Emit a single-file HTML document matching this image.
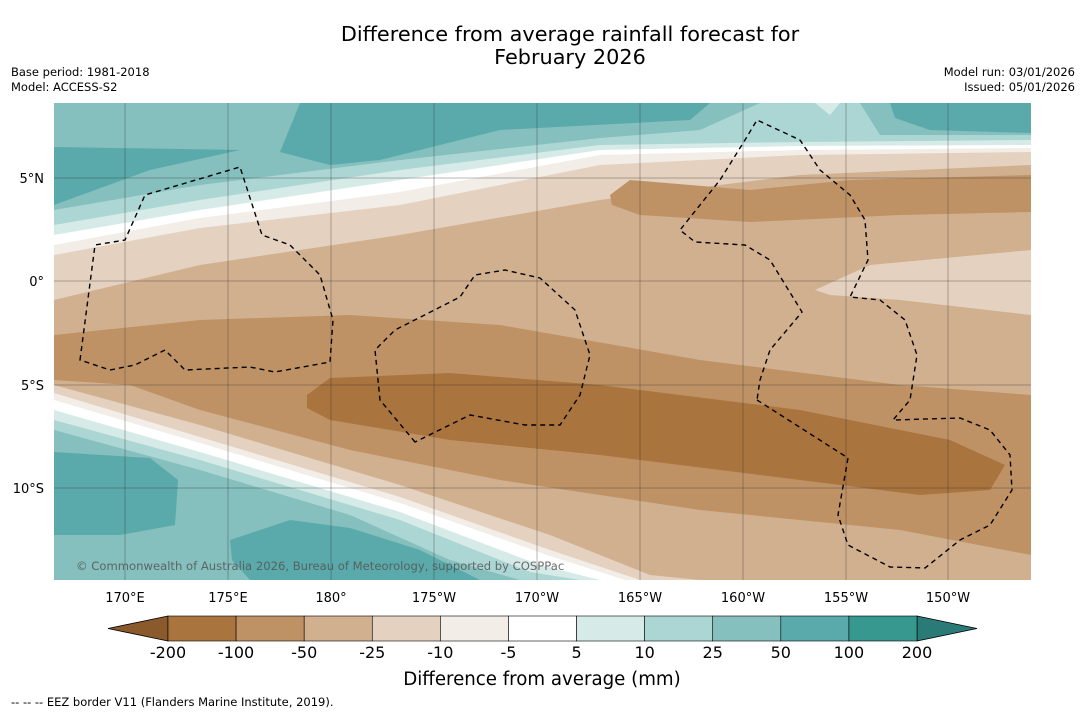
<!DOCTYPE html>
<html><head><meta charset="utf-8"><style>
html,body{margin:0;padding:0;background:#fff;width:1085px;height:713px;overflow:hidden;font-family:"Liberation Sans","DejaVu Sans",sans-serif}
</style></head><body>
<svg width="1085" height="713" xmlns="http://www.w3.org/2000/svg" font-family="'DejaVu Sans','Liberation Sans',sans-serif">
<text x="570" y="41" font-size="20.8" text-anchor="middle">Difference from average rainfall forecast for</text>
<text x="570" y="64" font-size="20.8" text-anchor="middle">February 2026</text>
<text x="11" y="76" font-size="11.5">Base period: 1981-2018</text>
<text x="11" y="91" font-size="11.5">Model: ACCESS-S2</text>
<text x="1075" y="76" font-size="11.5" text-anchor="end">Model run: 03/01/2026</text>
<text x="1075" y="91" font-size="11.5" text-anchor="end">Issued: 05/01/2026</text>
<defs><clipPath id="mc"><rect x="54" y="103" width="977" height="477"/></clipPath></defs>
<g clip-path="url(#mc)">
<rect x="54" y="103" width="977" height="477" fill="#d1b08f"/>
<path d="M54,103 L1031,103 L1031,165 L800,175 L600,200 L400,235 L200,265 L54,300Z" fill="#e4d1bf"/>
<path d="M54,103 L1031,103 L1031,152 L800,155 L600,165 L400,205 L200,228 L54,255Z" fill="#f3ede8"/>
<path d="M54,103 L1031,103 L1031,148 L800,150 L600,155 L400,192 L200,218 L54,245Z" fill="#fff"/>
<path d="M54,103 L1031,103 L1031,145 L800,146 L600,150 L400,180 L200,210 L54,235Z" fill="#d6ebe8"/>
<path d="M54,103 L1031,103 L1031,140 L800,142 L600,145 L400,170 L200,200 L54,225Z" fill="#acd6d4"/>
<path d="M54,103 L760,103 L700,130 L600,138 L400,160 L200,185 L54,210Z" fill="#85bfbe"/>
<path d="M860,103 L1031,103 L1031,135 L880,135Z" fill="#85bfbe"/>
<path d="M54,147 L240,150 L150,170 L54,205Z" fill="#5aaaab"/>
<path d="M54,103 L150,103 L54,120Z" fill="#85bfbe"/>
<path d="M300,103 L710,103 L690,120 L500,130 L380,160 L330,165 L280,152Z" fill="#5aaaab"/>
<path d="M890,103 L1031,103 L1031,133 L930,130 L895,118Z" fill="#5aaaab"/>
<path d="M815,103 L840,103 L830,115Z" fill="#d6ebe8"/>
<path d="M54,335 L200,320 L350,315 L500,325 L700,360 L900,385 L1031,395 L1031,555 L900,530 L700,510 L500,480 L350,450 L200,410 L130,385 L54,380Z" fill="#bf9266"/>
<path d="M610,195 L630,180 L750,190 L850,180 L1031,175 L1031,212 L900,215 L750,222 L640,215 L612,205Z" fill="#bf9266"/>
<path d="M307,395 L330,378 L450,373 L600,385 L800,410 L950,440 L1005,465 L990,490 L920,495 L800,480 L600,455 L450,440 L330,420 L307,408Z" fill="#aa743e"/>
<path d="M815,290 L870,265 L1031,250 L1031,315 L900,300 L830,295Z" fill="#e4d1bf"/>
<path d="M54,385 L200,425 L400,485 L550,535 L650,575 L700,580 L54,580Z" fill="#e4d1bf"/>
<path d="M54,393 L200,437 L400,497 L550,550 L640,580 L54,580Z" fill="#f3ede8"/>
<path d="M54,400 L200,443 L400,503 L550,556 L625,580 L54,580Z" fill="#fff"/>
<path d="M54,410 L200,452 L400,512 L540,565 L600,580 L54,580Z" fill="#d6ebe8"/>
<path d="M54,420 L200,460 L400,520 L530,572 L580,580 L54,580Z" fill="#acd6d4"/>
<path d="M54,430 L200,470 L350,515 L450,560 L520,580 L54,580Z" fill="#85bfbe"/>
<path d="M54,452 L150,458 L178,480 L175,525 L120,535 L54,535Z" fill="#5aaaab"/>
<path d="M230,540 L290,520 L350,528 L420,550 L480,580 L250,580 L232,560Z" fill="#5aaaab"/>
<g stroke="#333" stroke-opacity="0.7" stroke-width="0.5">
<line x1="125" y1="103" x2="125" y2="580"/><line x1="228" y1="103" x2="228" y2="580"/><line x1="331" y1="103" x2="331" y2="580"/><line x1="434" y1="103" x2="434" y2="580"/><line x1="537" y1="103" x2="537" y2="580"/><line x1="640" y1="103" x2="640" y2="580"/><line x1="743" y1="103" x2="743" y2="580"/><line x1="846" y1="103" x2="846" y2="580"/><line x1="948" y1="103" x2="948" y2="580"/>
<line x1="54" y1="178" x2="1031" y2="178"/><line x1="54" y1="281" x2="1031" y2="281"/><line x1="54" y1="385" x2="1031" y2="385"/><line x1="54" y1="488" x2="1031" y2="488"/>
</g>
<g fill="none" stroke="#000" stroke-width="1.4" stroke-dasharray="5,4">
<path d="M80,360 L95,245 L125,240 L145,195 L240,167 L262,235 L290,245 L320,275 L333,320 L330,362 L275,372 L250,367 L185,370 L165,350 L135,365 L110,370 Z"/>
<path d="M415,442 L380,400 L375,350 L395,330 L460,297 L475,275 L505,270 L540,278 L575,310 L590,355 L580,395 L560,425 L525,425 L470,415 Z"/>
<path d="M757,400 L848,458 L838,515 L848,545 L890,567 L925,568 L960,540 L990,525 L1012,490 L1010,455 L990,430 L960,418 L893,420 L910,400 L917,355 L905,320 L880,300 L850,297 L868,260 L865,220 L850,195 L820,170 L800,140 L757,120 L745,140 L720,180 L680,230 L695,242 L745,245 L770,260 L802,312 L770,350 L760,380 Z"/>
</g>
<text x="76" y="570" font-size="11.6" fill="#555" fill-opacity="0.85">© Commonwealth of Australia 2026, Bureau of Meteorology, supported by COSPPac</text>
</g>
<g font-size="13" text-anchor="middle">
<text x="125" y="602">170°E</text><text x="228" y="602">175°E</text><text x="331" y="602">180°</text><text x="434" y="602">175°W</text><text x="537" y="602">170°W</text><text x="640" y="602">165°W</text><text x="743" y="602">160°W</text><text x="846" y="602">155°W</text><text x="948" y="602">150°W</text>
</g>
<g font-size="13" text-anchor="end">
<text x="44" y="183">5°N</text><text x="44" y="286">0°</text><text x="44" y="390">5°S</text><text x="44" y="493">10°S</text>
</g>
<g id="cbar"></g>
<text x="542" y="685" font-size="18.2" text-anchor="middle">Difference from average (mm)</text>
<text x="11" y="706" font-size="11.5">--  --  -- EEZ border V11 (Flanders Marine Institute, 2019).</text>
</svg>
<script>
const levels=["-200","-100","-50","-25","-10","-5","5","10","25","50","100","200"];
const bandColors=["#aa743e","#bf9266","#d1b08f","#e4d1bf","#f3ede8","#ffffff","#d6ebe8","#acd6d4","#85bfbe","#5aaaab","#36988f"];
const extendColors=["#8a5a2d","#2a7b78"];
const ns="http://www.w3.org/2000/svg";
const g=document.getElementById('cbar');
const x0=168,x1=917,y0=616,h=25,w=(x1-x0)/bandColors.length;
function mk(t,a){const e=document.createElementNS(ns,t);for(const k in a)e.setAttribute(k,a[k]);g.appendChild(e);return e;}
const lt=mk('polygon',{points:`${x0},${y0} ${x0-60},${y0+h/2} ${x0},${y0+h}`,fill:extendColors[0],stroke:'#000','stroke-width':0.8});


const rt=mk('polygon',{points:`${x1},${y0} ${x1+60},${y0+h/2} ${x1},${y0+h}`,fill:extendColors[1],stroke:'#000','stroke-width':0.8});


bandColors.forEach((c,i)=>{
 const r=mk('rect',{x:x0+i*w,y:y0,width:w,height:h,fill:c,stroke:'#000','stroke-width':0.6});
 
 
});
levels.forEach((l,i)=>{
 const t=mk('text',{x:x0+i*w,y:658,'font-size':16,'text-anchor':'middle'});
 t.textContent=l;
 
 
});
</script>
</body></html>
